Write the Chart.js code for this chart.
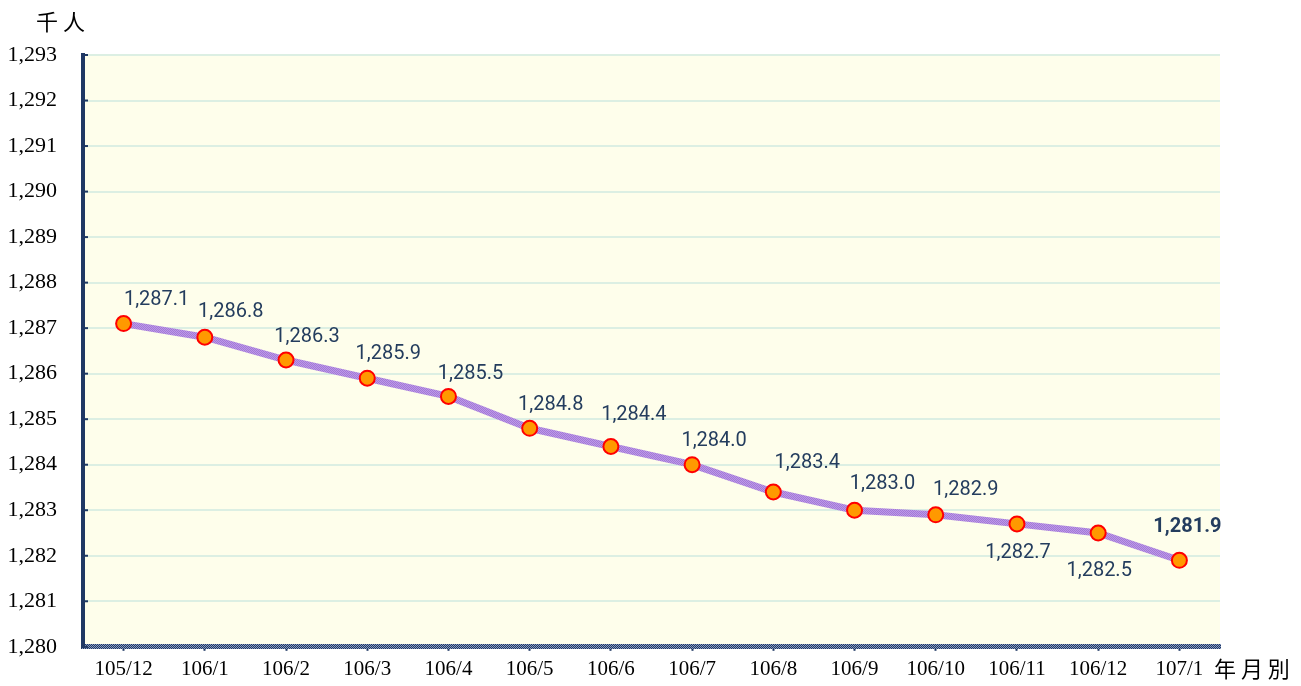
<!DOCTYPE html>
<html>
<head>
<meta charset="utf-8">
<script src="https://cdn.jsdelivr.net/npm/chart.js@4"></script>
<style>
  html, body { margin: 0; padding: 0; background: #fff; }
  #wrap { width: 1301px; height: 686px; }
</style>
</head>
<body>
<div id="wrap"><canvas id="chart" width="1301" height="686"></canvas></div>
<script>
const months = ['105/12','106/1','106/2','106/3','106/4','106/5','106/6','106/7','106/8','106/9','106/10','106/11','106/12','107/1']
const people = [1287.1,1286.8,1286.3,1285.9,1285.5,1284.8,1284.4,1284.0,1283.4,1283.0,1282.9,1282.7,1282.5,1281.9]
const yMin = 1280
const yMax = 1293
const yUnit = '千 人'
const xUnit = '年 月 別'

// label offsets from each point (style only)
const labelDx = [33,26,21,21,22,21,23,22,34,28,30,1,1,8]
const labelDy = [-24,-25,-23,-24,-22,-23,-31,-24,-29,-26,-25,29,38,-33]

function hatch(c1, c2, size) {
    const p = document.createElement('canvas')
    p.width = size; p.height = size
    const g = p.getContext('2d')
    g.fillStyle = c1
    g.fillRect(0, 0, size, size)
    g.fillStyle = c2
    for (let i = 0; i < size; i++) {
        g.fillRect(i, i, 1, 1)
        g.fillRect((i + size / 2) % size, i, 1, 1)
    }
    return g.createPattern(p, 'repeat')
}

const fmt = v => v.toLocaleString('en-US', {minimumFractionDigits: 1, maximumFractionDigits: 1})

const decor = {
    id: 'decor',
    beforeDraw(c) {
        const a = c.chartArea, ctx = c.ctx
        ctx.save()
        ctx.fillStyle = '#fefeeb'
        ctx.fillRect(a.left, a.top, a.right - a.left, a.bottom - a.top)
        ctx.restore()
    },
    afterDraw(c) {
        const ctx = c.ctx, a = c.chartArea, y = c.scales.y
        ctx.save()
        // small inner ticks on left axis
        ctx.strokeStyle = '#1f3864'
        ctx.lineWidth = 2
        for (let v = yMin; v <= yMax; v++) {
            const py = y.getPixelForValue(v)
            ctx.beginPath()
            ctx.moveTo(a.left, py)
            ctx.lineTo(a.left + 5, py)
            ctx.stroke()
        }
        // data labels
        const meta = c.getDatasetMeta(0)
        ctx.textAlign = 'center'
        ctx.textBaseline = 'middle'
        meta.data.forEach((pt, i) => {
            const last = i === meta.data.length - 1
            ctx.font = (last ? 'bold ' : '') + '20px Roboto, "Liberation Sans", sans-serif'
            ctx.fillStyle = '#243d5e'
            ctx.fillText(fmt(people[i]), pt.x + labelDx[i], pt.y + labelDy[i])
        })
        // unit labels
        ctx.fillStyle = '#000'
        ctx.font = '22px "Noto Sans CJK TC", sans-serif'
        ctx.textAlign = 'left'
        ctx.fillText(yUnit, 36, 22)
        ctx.fillText(xUnit, 1214, 669)
        ctx.restore()
    }
}

function initChart() {
    const ctx = document.getElementById('chart').getContext('2d')
    return new Chart(ctx, {
        type: 'line',
        data: {
            labels: months,
            datasets: [{
                data: people,
                borderColor: hatch('#bd98e8', '#a27ad6', 4),
                borderWidth: 7,
                pointRadius: 7.5,
                pointHoverRadius: 7.5,
                pointBackgroundColor: '#ff9900',
                pointBorderColor: '#ff0000',
                pointBorderWidth: 2,
                tension: 0
            }]
        },
        plugins: [decor],
        options: {
            responsive: false,
            animation: false,
            layout: { padding: { top: 55, right: 81, left: 0, bottom: 0 } },
            plugins: {
                legend: { display: false },
                tooltip: { enabled: false }
            },
            scales: {
                x: {
                    offset: true,
                    afterFit: s => { s.height = 38 },
                    grid: { drawOnChartArea: false, tickLength: 4, tickColor: '#1f3864', tickWidth: 2 },
                    border: { color: hatch('#1f3864', '#8a9cc0', 4), width: 5 },
                    ticks: {
                        color: '#000',
                        padding: 6,
                        maxRotation: 0,
                        autoSkip: false,
                        font: { family: '"Liberation Serif", "DejaVu Serif", serif', size: 21 }
                    }
                },
                y: {
                    min: yMin,
                    max: yMax,
                    afterFit: s => { s.width = 83 },
                    grid: { color: '#dcefe3', lineWidth: 2, drawTicks: false },
                    border: { color: '#1f3864', width: 4 },
                    ticks: {
                        stepSize: 1,
                        color: '#000',
                        padding: 26,
                        callback: v => v.toLocaleString('en-US'),
                        font: { family: '"Liberation Serif", "DejaVu Serif", serif', size: 22 }
                    }
                }
            }
        }
    })
}
initChart()
</script>
</body>
</html>
